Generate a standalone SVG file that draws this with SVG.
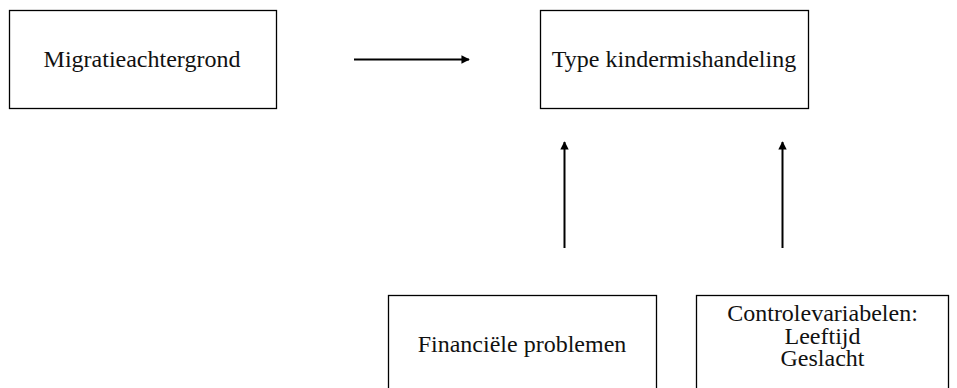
<svg xmlns="http://www.w3.org/2000/svg" width="957" height="388" viewBox="0 0 957 388">
<style>
.box{fill:#fff;stroke:#000;stroke-width:1.3}
.lbl{font-family:"Liberation Serif","Times New Roman",serif;font-size:24px;fill:#111;text-anchor:middle}
.con{stroke:#000;stroke-width:2;fill:none}
</style>
<defs>
<marker id="ah" viewBox="0 0 10 10" refX="9" refY="5" markerWidth="4.2" markerHeight="4.2" orient="auto" markerUnits="strokeWidth">
<path d="M0,0 L10,5 L0,10 z" fill="#000"/>
</marker>
</defs>
<rect width="957" height="388" fill="#fff"/>
<g id="migratie">
<rect class="box" x="9.5" y="10.5" width="267" height="98"/>
<text class="lbl" x="142" y="66.5">Migratieachtergrond</text>
</g>
<g id="type">
<rect class="box" x="540.5" y="10.5" width="268" height="98"/>
<text class="lbl" x="674" y="66.5">Type kindermishandeling</text>
</g>
<g id="financieel">
<rect class="box" x="388.5" y="295.5" width="268" height="100"/>
<text class="lbl" x="522" y="351.5">Financiële problemen</text>
</g>
<g id="controle">
<rect class="box" x="696.5" y="295.5" width="252" height="100"/>
<text class="lbl" x="822.5" y="321">Controlevariabelen:</text>
<text class="lbl" x="822.5" y="343.5">Leeftijd</text>
<text class="lbl" x="822.5" y="365.5">Geslacht</text>
</g>
<g id="connectors">
<line class="con" x1="354" y1="59.5" x2="469" y2="59.5" marker-end="url(#ah)"/>
<line class="con" x1="564.5" y1="248" x2="564.5" y2="142" marker-end="url(#ah)"/>
<line class="con" x1="782.5" y1="248" x2="782.5" y2="142" marker-end="url(#ah)"/>
</g>
</svg>
